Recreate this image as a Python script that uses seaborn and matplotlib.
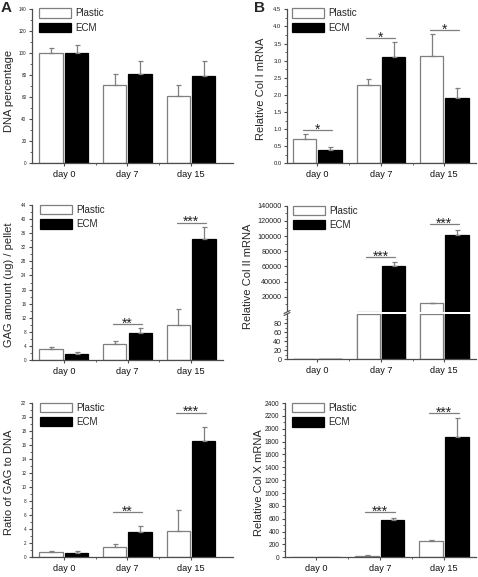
import matplotlib
matplotlib.use("Agg")
import matplotlib.pyplot as plt
import numpy as np
import pandas as pd
import seaborn as sns
from matplotlib.lines import Line2D
from matplotlib.patches import Patch, Rectangle
from matplotlib.ticker import FixedLocator, FormatStrFormatter, MultipleLocator

# ---- data ----
days = ["day 0", "day 7", "day 15"]
groups = ["Plastic", "ECM"]

dna_plastic = [100, 71, 61]
dna_plastic_err = [5, 10, 10]
dna_ecm = [100, 81, 79]
dna_ecm_err = [8, 12, 14]

col1_plastic = [0.70, 2.28, 3.13]
col1_plastic_err = [0.15, 0.19, 0.64]
col1_ecm = [0.38, 3.11, 1.92]
col1_ecm_err = [0.10, 0.43, 0.27]

gag_plastic = [3.2, 4.6, 9.8]
gag_plastic_err = [0.5, 0.7, 4.6]
gag_ecm = [1.6, 7.7, 34.3]
gag_ecm_err = [0.8, 1.3, 3.4]

col2_plastic = [1, 300, 11200]
col2_plastic_err = [0, 0, 300]
col2_ecm = [1, 60000, 102000]
col2_ecm_err = [0, 6000, 6500]

ratio_plastic = [0.76, 1.52, 3.74]
ratio_plastic_err = [0.15, 0.38, 2.95]
ratio_ecm = [0.57, 3.55, 16.5]
ratio_ecm_err = [0.28, 0.95, 2.1]

col10_plastic = [1, 21, 249]
col10_plastic_err = [0, 10, 16]
col10_ecm = [1, 577, 1865]
col10_ecm_err = [0, 41, 300]

# significance marks: (day index, bracket height, stars)
col1_sig = [(0, 0.97, "*"), (1, 3.65, "*"), (2, 3.89, "*")]
gag_sig = [(1, 10.2, "**"), (2, 39.0, "***")]
col2_sig = [(1, 71900, "***"), (2, 115400, "***")]
ratio_sig = [(1, 6.4, "**"), (2, 20.6, "***")]
col10_sig = [(1, 701, "***"), (2, 2244, "***")]

W, H = 478, 577
EDGE = "#7f7f7f"
AXC = "#4d4d4d"

sns.set_style("ticks")
plt.rcParams["font.family"] = ["Liberation Sans", "DejaVu Sans"]


def px_axes(fig, left, top, right, bottom):
    return fig.add_axes([left / W, 1 - bottom / H, (right - left) / W, (bottom - top) / H])


def bar_panel(ax, plastic, plastic_err, ecm, ecm_err):
    df = pd.DataFrame({
        "day": days * 2,
        "group": [groups[0]] * len(days) + [groups[1]] * len(days),
        "value": list(plastic) + list(ecm),
    })
    n0 = len(ax.containers)
    sns.barplot(data=df, x="day", y="value", hue="group", order=days, hue_order=groups,
                palette={"Plastic": "white", "ECM": "black"}, edgecolor=EDGE,
                linewidth=0.9, width=0.8, gap=0.08, errorbar=None, legend=False, ax=ax)
    new = list(ax.containers[n0:n0 + 2])
    for b in new[1]:
        b.set_edgecolor("black")
    for cont, errs in zip(new, [plastic_err, ecm_err]):
        xs = [b.get_x() + b.get_width() / 2 for b, e in zip(cont, errs) if e > 0]
        ys = [b.get_height() for b, e in zip(cont, errs) if e > 0]
        es = [e for e in errs if e > 0]
        if es:
            ax.errorbar(xs, ys, yerr=[[0] * len(es), es], fmt="none", ecolor=EDGE,
                        elinewidth=0.9, capsize=1.8, capthick=0.9, zorder=1)


def style_axis(ax, xlim, ylim, major, minor, tick_size, fmt="%d"):
    ax.set_xlim(*xlim)
    ax.set_ylim(*ylim)
    if isinstance(major, list):
        ax.yaxis.set_major_locator(FixedLocator(major))
    else:
        ax.yaxis.set_major_locator(MultipleLocator(major))
    if isinstance(minor, list):
        ax.yaxis.set_minor_locator(FixedLocator(minor))
    else:
        ax.yaxis.set_minor_locator(MultipleLocator(minor))
    ax.yaxis.set_major_formatter(FormatStrFormatter(fmt))
    ax.xaxis.set_minor_locator(FixedLocator([0.5, 1.5]))
    for s in ["top", "right"]:
        ax.spines[s].set_visible(False)
    for s in ["left", "bottom"]:
        ax.spines[s].set_color(AXC)
        ax.spines[s].set_linewidth(0.9)
    ax.tick_params(axis="y", which="major", length=2.5, width=0.8, color=AXC,
                   labelsize=tick_size, labelcolor="#222222", pad=1.5)
    ax.tick_params(axis="y", which="minor", length=1.3, width=0.6, color=AXC)
    ax.tick_params(axis="x", which="major", length=2.5, width=0.8, color=AXC,
                   labelsize=6.6, labelcolor="#111111", pad=2.5)
    ax.tick_params(axis="x", which="minor", length=1.5, width=0.6, color=AXC)
    ax.set_xlabel("")
    ax.set_ylabel("")


def add_legend(ax, dx_px, width_px, height_px, dy_px=1):
    handles = [Patch(facecolor="white", edgecolor=EDGE, linewidth=0.9),
               Patch(facecolor="black", edgecolor="black", linewidth=0.9)]
    ax.legend(handles, groups, loc="upper left",
              bbox_to_anchor=(dx_px / width_px, 1 + dy_px / height_px),
              frameon=False, fontsize=7, handlelength=3.25, handleheight=1.08,
              labelspacing=0.45, handletextpad=0.45, borderpad=0, borderaxespad=0)


def add_sig(ax, marks):
    for i, y, stars in marks:
        ax.plot([i - 0.23, i + 0.23], [y, y], color=EDGE, lw=0.9)
        ax.annotate(stars, (i, y), xytext=(0, -2.5), textcoords="offset points",
                    ha="center", va="baseline", fontsize=10, color="#222222")


def ylabel(fig, ax, text, cx, cy):
    ax.set_ylabel(text, fontsize=8, va="center")
    ax.yaxis.set_label_coords(cx / W, 1 - cy / H, transform=fig.transFigure)


fig = plt.figure(figsize=(W / 100, H / 100), dpi=100)

# A top: DNA percentage
ax = px_axes(fig, 32, 9.3, 233, 163.3)
bar_panel(ax, dna_plastic, dna_plastic_err, dna_ecm, dna_ecm_err)
style_axis(ax, (-0.5, 2.66), (0, 140), 20, 10, 3.3)
add_legend(ax, 7, 201, 154)
ylabel(fig, ax, "DNA percentage", 9, 91)

# B top: Col I
ax = px_axes(fig, 287, 9.3, 476, 163.3)
bar_panel(ax, col1_plastic, col1_plastic_err, col1_ecm, col1_ecm_err)
style_axis(ax, (-0.48, 2.5), (0, 4.5), 0.5, 0.25, 4.2, fmt="%.1f")
add_legend(ax, 5, 189, 154)
add_sig(ax, col1_sig)
ylabel(fig, ax, "Relative Col I mRNA", 260.7, 89)

# A middle: GAG amount
ax = px_axes(fig, 32, 205, 223, 360)
bar_panel(ax, gag_plastic, gag_plastic_err, gag_ecm, gag_ecm_err)
style_axis(ax, (-0.5, 2.5), (0, 44), 4, 2, 3.3)
add_legend(ax, 8, 191, 155, dy_px=0)
add_sig(ax, gag_sig)
ylabel(fig, ax, "GAG amount (ug) / pellet", 9, 285)

# B middle: Col II on a broken y axis (0-100 below the break, 0-140000 above)
LOW_TOP, LOW_PX, GAP_PX, UP_TOP, UP_PX = 100, 45.3, 2.0, 140000, 106.3


def broken_fwd(y):
    y = np.asarray(y, dtype=float)
    return np.where(y <= LOW_TOP, y * LOW_PX / LOW_TOP, LOW_PX + GAP_PX + y * UP_PX / UP_TOP)


def broken_inv(t):
    t = np.asarray(t, dtype=float)
    return np.where(t <= LOW_PX, t * LOW_TOP / LOW_PX, (t - LOW_PX - GAP_PX) * UP_TOP / UP_PX)


ax = px_axes(fig, 287, 205.7, 476, 359.3)
bar_panel(ax, col2_plastic, col2_plastic_err, col2_ecm, col2_ecm_err)
# the part of every bar below the break, drawn again so it is always filled
bar_panel(ax, np.minimum(col2_plastic, LOW_TOP), [0, 0, 0],
          np.minimum(col2_ecm, LOW_TOP), [0, 0, 0])
ax.set_yscale("function", functions=(broken_fwd, broken_inv))
style_axis(ax, (-0.48, 2.5), (0, UP_TOP),
           [0, 20, 40, 60, 80] + list(range(20000, UP_TOP + 1, 20000)),
           list(range(10, 100, 20)) + list(range(10000, UP_TOP, 20000)), 5.2)
total_px = LOW_PX + GAP_PX + UP_PX
ax.add_patch(Rectangle((-0.03, LOW_PX / total_px), 1.06, GAP_PX / total_px,
                       transform=ax.transAxes, facecolor="white", edgecolor="none",
                       zorder=3, clip_on=False))
for k in (0.0, 2.0):
    yb = (LOW_PX + k) / total_px
    ax.add_line(Line2D([-0.016, 0.016], [yb - 1.5 / total_px, yb + 1.5 / total_px],
                       transform=ax.transAxes, color=AXC, lw=0.8, zorder=4, clip_on=False))
add_legend(ax, 6, 189, total_px, dy_px=0)
add_sig(ax, col2_sig)
ylabel(fig, ax, "Relative Col II mRNA", 248, 276.7)

# A bottom: ratio GAG to DNA
ax = px_axes(fig, 32, 402.7, 233, 557.3)
bar_panel(ax, ratio_plastic, ratio_plastic_err, ratio_ecm, ratio_ecm_err)
style_axis(ax, (-0.5, 2.66), (0, 22), 2, 1, 3.3)
add_legend(ax, 8, 201, 154.6, dy_px=0)
add_sig(ax, ratio_sig)
ylabel(fig, ax, "Ratio of GAG to DNA", 9, 482.5)

# B bottom: Col X
ax = px_axes(fig, 285, 403, 476, 557.3)
bar_panel(ax, col10_plastic, col10_plastic_err, col10_ecm, col10_ecm_err)
style_axis(ax, (-0.48, 2.5), (0, 2400), 200, 100, 4.8)
add_legend(ax, 7, 191, 154.3, dy_px=0)
add_sig(ax, col10_sig)
ylabel(fig, ax, "Relative Col X mRNA", 259, 483)

fig.text(0.5 / W, 1 - 1 / H, "A", fontsize=11, fontweight="bold", ha="left", va="top")
fig.text(254 / W, 1 - 1 / H, "B", fontsize=11, fontweight="bold", ha="left", va="top")

fig.savefig("out.png", dpi=100)
